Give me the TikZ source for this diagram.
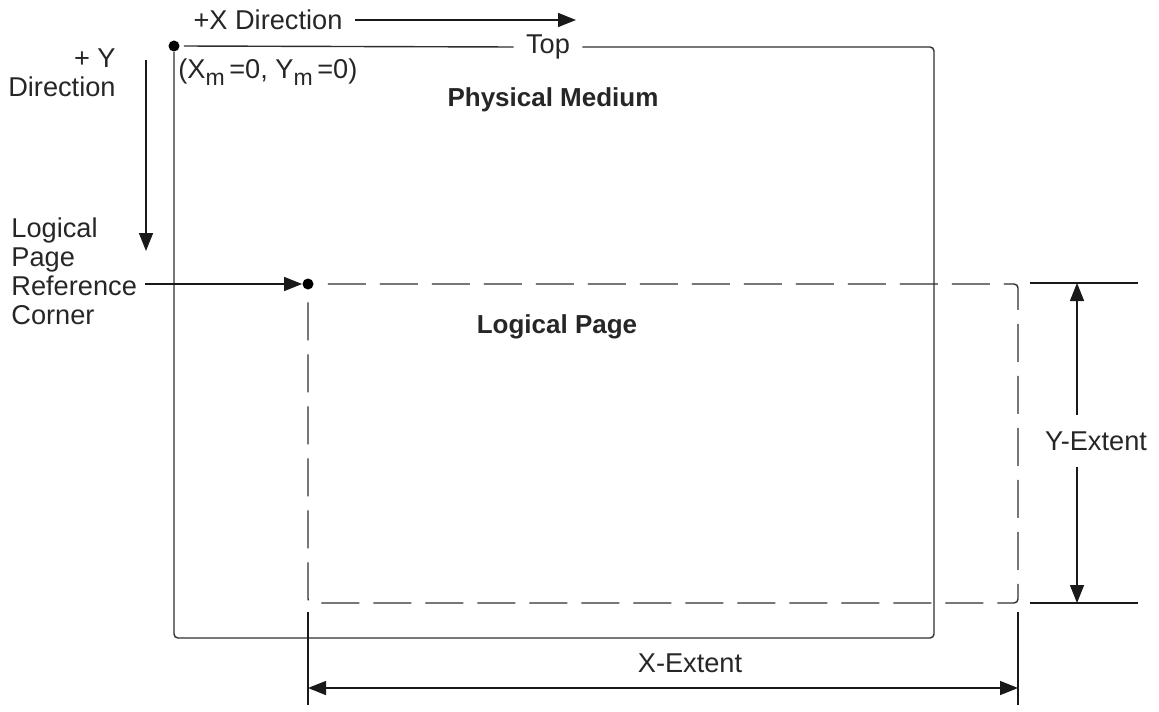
\documentclass[tikz,border=0pt]{standalone}
\usepackage{fontspec}
\setmainfont{Liberation Sans}
\usetikzlibrary{arrows.meta, positioning}
\newcommand\lowsub[1]{\raisebox{-0.5ex}{\fontsize{11.5}{11.5}\selectfont #1}}

\begin{document}
\begin{tikzpicture}[x=0.5pt, y=-0.5pt,
    >={Triangle[length=9pt, width=7pt]},
    txt/.style={font=\fontsize{13.6}{14.6}\selectfont, text=black!85, inner sep=1pt},
    title/.style={txt, font=\fontsize{13}{14.6}\selectfont\bfseries},
    dot/.style={circle, fill=black, inner sep=0pt, minimum size=5.5pt},
  ]
    \tikzset{
      page/.style={draw=black!82, line width=0.7pt, rounded corners=2pt},
      logpage/.style={page, dash pattern=on 19pt off 7pt},
      dim/.style={draw=black!90, line width=0.75pt},
    }
    \useasboundingbox (0,0) rectangle (1159,711);

    % physical medium with its origin
    \node[dot] (origin) at (174,46) {};
    \node[txt, inner xsep=6pt] (top) at (548,47) {Top};
    \node[txt, anchor=west] (orig-lbl) at (176,72)
        {(X\lowsub{m}\,=0,\ Y\lowsub{m}\,=0)};
    \node[title] (pm-lbl) at (553,100) {Physical Medium};
    \coordinate (pm-ne) at (934,47);
    \coordinate (pm-sw) at (174,638);

    \draw[page, rounded corners=0pt, shorten <=2pt] (origin.east) -- (top.west);
    \draw[page]
           (top.east)
        -- (pm-ne)
        -- (pm-ne |- pm-sw)
        -- (pm-sw)
        -- (origin.south);

    % direction arrows
    \node[txt, inner xsep=6pt] (xdir) at (268,20) {+X Direction};
    \coordinate (xdir-end) at (576,20);
    \draw[dim, ->] (xdir.east) -- (xdir-end);

    \node[txt, align=right, anchor=north east] (ydir) at (118,46) {+ Y\\Direction};
    \coordinate (ydir-start) at (146,60);
    \coordinate (ydir-end) at (146,251);
    \draw[dim, ->] (ydir-start) -- (ydir-end);

    % logical page and its reference corner
    \node[txt, align=left, anchor=north west] (ref-lbl) at (9,215)
        {Logical\\Page\\Reference\\Corner};
    \node[dot] (lpc) at (308,284) {};
    \coordinate (ref-from) at (145,284);
    \draw[dim, ->] (ref-from) -- (lpc.west);

    \node[title] (lp-lbl) at (557,327) {Logical Page};
    \coordinate (lp-ne) at (1018,284);
    \coordinate (lp-sw) at (308,603);
    \draw[logpage, dash phase=-7pt]
           (lpc.east)
        -- (lp-ne)
        -- (lp-ne |- lp-sw)
        -- (lp-sw)
        -- (lpc.south);

    % Y extent
    \coordinate (yext-top) at (1077,283);
    \coordinate (yext-bot) at (1077,603);
    \node[txt, inner ysep=8pt] (yext) at (1096,441) {Y-Extent};
    \draw[dim] (1030,283) -- (1138,283);
    \draw[dim] (1030,603) -- (1138,603);
    \draw[dim, ->] (yext-top |- yext.north) -- (yext-top);
    \draw[dim, ->] (yext-top |- yext.south) -- (yext-bot);

    % X extent
    \coordinate (xext-l) at (308,688);
    \coordinate (xext-r) at (1018,688);
    \node[txt] (xext) at (690,663) {X-Extent};
    \draw[dim] (308,612) -- (308,705);
    \draw[dim] (1018,612) -- (1018,705);
    \draw[dim, <->] (xext-l) -- (xext-r);
\end{tikzpicture}
\end{document}
